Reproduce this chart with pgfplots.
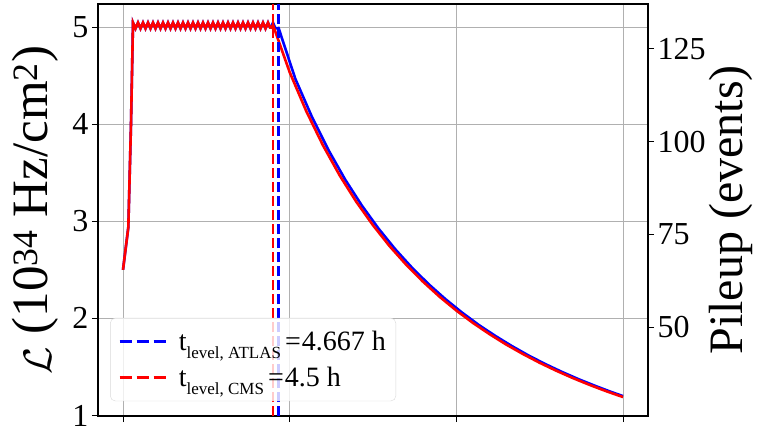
\documentclass[border=0pt]{standalone}
\usepackage{fontspec}
\setmainfont{Liberation Serif}
\usepackage{graphicx}
\usepackage{pgfplots}
\usepackage{pgfplotstable}
\pgfplotsset{compat=1.18}

\definecolor{gridgray}{RGB}{176,176,176}
\newcommand{\sub}[1]{\raisebox{-0.3em}{\fontsize{17}{19}\selectfont #1}}

% Ramp-up and levelled plateau (common to both experiments), t in h, L in 1e34 Hz/cm^2
\pgfplotstableread{
t L
0.000 2.500
0.160 2.940
0.240 4.000
0.300 5.045
0.375 4.985
0.450 5.045
0.525 4.985
0.600 5.045
0.675 4.985
0.750 5.045
0.825 4.985
0.900 5.045
0.975 4.985
1.050 5.045
1.125 4.985
1.200 5.045
1.275 4.985
1.350 5.045
1.425 4.985
1.500 5.045
1.575 4.985
1.650 5.045
1.725 4.985
1.800 5.045
1.875 4.985
1.950 5.045
2.025 4.985
2.100 5.045
2.175 4.985
2.250 5.045
2.325 4.985
2.400 5.045
2.475 4.985
2.550 5.045
2.625 4.985
2.700 5.045
2.775 4.985
2.850 5.045
2.925 4.985
3.000 5.045
3.075 4.985
3.150 5.045
3.225 4.985
3.300 5.045
3.375 4.985
3.450 5.045
3.525 4.985
3.600 5.045
3.675 4.985
3.750 5.045
3.825 4.985
3.900 5.045
3.975 4.985
4.050 5.045
4.125 4.985
4.200 5.045
4.275 4.985
4.350 5.045
4.425 4.985
}\levelled

% ATLAS: levelling until 4.667 h, then free decay
\pgfplotstableread{
t L
4.425 4.985
4.500 5.045
4.575 4.985
4.667 4.990
5.167 4.469
5.667 4.075
6.167 3.731
6.667 3.428
7.167 3.161
7.667 2.924
8.167 2.712
8.667 2.523
9.167 2.353
9.667 2.200
10.167 2.061
10.667 1.934
11.167 1.820
11.667 1.715
12.167 1.618
12.667 1.530
13.167 1.449
13.667 1.374
14.167 1.305
14.667 1.240
15.000 1.200
}\atlasdecay

% CMS: levelling until 4.5 h, then free decay
\pgfplotstableread{
t L
4.425 4.985
4.500 5.020
5.000 4.535
5.500 4.132
6.000 3.781
6.500 3.472
7.000 3.200
7.500 2.959
8.000 2.743
8.500 2.551
9.000 2.378
9.500 2.222
10.000 2.081
10.500 1.953
11.000 1.837
11.500 1.730
12.000 1.633
12.500 1.543
13.000 1.461
13.500 1.385
14.000 1.315
14.500 1.250
15.000 1.190
}\cmsdecay

\begin{document}
\begin{tikzpicture}
\useasboundingbox (0,0) rectangle (757pt,429pt);
\begin{axis}[
  at={(98pt,13pt)}, anchor=south west,
  scale only axis, width=550pt, height=412pt,
  xmin=-0.75, xmax=15.75,
  ymin=0.995, ymax=5.237,
  xtick={0,5,10,15}, xticklabels={},
  ytick={1,2,3,4,5},
  xtick pos=bottom, ytick pos=left,
  tick align=outside,
  major tick length=6pt,
  every tick/.style={black, line width=1pt},
  grid=major,
  grid style={gridgray, line width=1pt},
  axis line style={black, line width=1.2pt},
  tick label style={font=\fontsize{32}{36}\selectfont},
  /pgf/number format/assume math mode=true,
  ylabel={\raisebox{-0.08em}{\scalebox{1.6}{$\mathcal{L}$}} (10\textsuperscript{34} Hz/cm\textsuperscript{2})},
  ylabel style={font=\fontsize{51}{55}\selectfont, at={(axis description cs:-0.115,0.5)}, anchor=center},
  legend cell align=left,
  legend image code/.code={\draw[#1, dash pattern=on 12pt off 5pt] (0pt,0pt) -- (46pt,0pt);},
  legend style={
    at={(0.022,0.036)}, anchor=south west,
    draw=black!15, rounded corners=5pt,
    fill=white, fill opacity=0.8, text opacity=1,
    font=\fontsize{28}{32}\selectfont,
    inner xsep=8pt, inner ysep=11pt, row sep=11pt,
  },
]
% luminosity curves
\addplot[blue, line width=2.6pt, forget plot] table[x=t, y=L] {\levelled};
\addplot[blue, line width=2.6pt, forget plot] table[x=t, y=L] {\atlasdecay};
\addplot[red, line width=2.6pt, forget plot] table[x=t, y=L] {\levelled};
\addplot[red, line width=2.6pt, forget plot] table[x=t, y=L] {\cmsdecay};
% end of levelling
\addplot[blue, line width=2.5pt, dash pattern=on 10pt off 4pt] coordinates {(4.667,0.995) (4.667,5.237)};
\addlegendentry{\hspace{10pt}t\sub{level, ATLAS}\hspace{4pt}=\hspace{1pt}4.667 h}
\addplot[red, line width=2.5pt, dash pattern=on 10pt off 4pt] coordinates {(4.5,0.995) (4.5,5.237)};
\addlegendentry{\hspace{10pt}t\sub{level, CMS}\hspace{4pt}=\hspace{1pt}4.5 h}
\end{axis}
\begin{axis}[
  at={(98pt,13pt)}, anchor=south west,
  scale only axis, width=550pt, height=412pt,
  xmin=-0.75, xmax=15.75,
  ymin=26.05, ymax=137.1,
  axis x line=none,
  axis y line*=right,
  ytick={50,75,100,125},
  tick align=outside,
  major tick length=6pt,
  every tick/.style={black, line width=1pt},
  axis line style={black, line width=1.2pt},
  tick label style={font=\fontsize{32}{36}\selectfont},
  /pgf/number format/assume math mode=true,
  ylabel={Pileup (events)},
  ylabel style={font=\fontsize{48}{52}\selectfont, at={(axis description cs:1.151,0.5)}, anchor=center},
]
\addplot[draw=none] coordinates {(0,50) (15,125)};
\end{axis}
\end{tikzpicture}
\end{document}
